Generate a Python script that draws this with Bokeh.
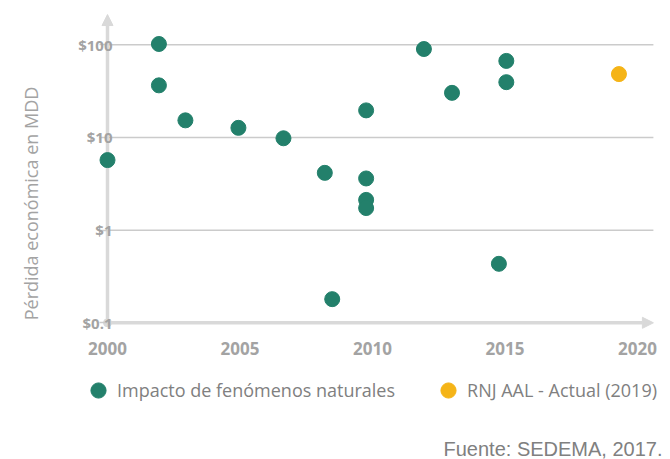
import math
from bokeh.plotting import figure
from bokeh.models import (Arrow, NormalHead, FixedTicker, CustomJSTickFormatter, Legend,
                          LegendItem, Label, Range1d, ColumnDataSource)
from bokeh.embed import file_html
from bokeh.resources import INLINE

# ---- data ----
years_natural = [2000, 2001.94, 2001.94, 2002.94, 2004.94, 2006.64, 2008.2, 2008.48,
                 2009.76, 2009.76, 2009.76, 2009.76, 2011.94, 2013.0, 2014.77, 2015.05, 2015.05]
loss_natural = [5.7, 102, 36.5, 15.3, 12.7, 9.8, 4.15, 0.18,
                19.6, 3.61, 2.12, 1.73, 90, 30.3, 0.433, 67, 39.5]
years_aal = [2019.3]
loss_aal = [48.3]
x_ticks = [2000, 2005, 2010, 2015, 2020]
y_ticks = [0.1, 1, 10, 100]
label_natural = "Impacto de fenómenos naturales"
label_aal = "RNJ AAL - Actual (2019)"
y_title = "Pérdida económica en MDD"
source_note = "Fuente: SEDEMA, 2017."

GREEN = "#23806B"
YELLOW = "#F5B417"
AXIS = "#D9D9D9"
GRID = "#CBCBCB"
TXT = "#A3A3A3"
FONT = "Open Sans"

W, H = 670, 459
# axis origin / scale in pixels (the frame covers the whole canvas)
ox, oy = 107, 322.3           # pixel position of (2000, $0.1)
px_year = 26.5                # pixels per year
px_dec = 92.67                # pixels per decade
x0, x_axis_end = 2000, 2020.6
y0, y_axis_end = 0.1, 212

x_range = Range1d(x0 - ox / px_year, x0 + (W - ox) / px_year)
y_range = Range1d(y0 * 10 ** (-(H - oy) / px_dec), y0 * 10 ** (oy / px_dec))

p = figure(width=W, height=H, output_backend="svg", toolbar_location=None,
           y_axis_type="log", x_range=x_range, y_range=y_range,
           min_border=0)
p.outline_line_color = None
p.background_fill_color = "white"
p.border_fill_color = "white"

# axes drawn at the data origin
p.xaxis.fixed_location = y0
p.xaxis.ticker = FixedTicker(ticks=x_ticks)
p.xaxis.axis_line_color = None
p.xaxis.major_tick_line_color = None
p.xaxis.minor_tick_line_color = None
p.xaxis.major_tick_out = 0
p.xaxis.major_tick_in = 0
p.xaxis.major_label_standoff = 19
p.xaxis.major_label_text_font = FONT
p.xaxis.major_label_text_font_style = "bold"
p.xaxis.major_label_text_font_size = "17px"
p.xaxis.major_label_text_color = TXT

p.yaxis.fixed_location = x0
p.yaxis.ticker = FixedTicker(ticks=y_ticks)
p.yaxis.formatter = CustomJSTickFormatter(code="return '$' + tick;")
p.yaxis.axis_line_color = None
p.yaxis.major_tick_out = 8
p.yaxis.major_tick_in = 0
p.yaxis.major_tick_line_color = GRID
p.yaxis.major_tick_line_width = 1.5
p.yaxis.minor_tick_line_color = None
p.yaxis.major_label_standoff = -13
p.yaxis.major_label_text_font = FONT
p.yaxis.major_label_text_font_style = "bold"
p.yaxis.major_label_text_font_size = "15px"
p.yaxis.major_label_text_color = TXT

p.xgrid.grid_line_color = None
p.ygrid.grid_line_color = None

# horizontal grid lines, from the y axis to the end of the x axis
grid_levels = y_ticks[1:]
p.segment(x0=[x0] * len(grid_levels), y0=grid_levels,
          x1=[x_axis_end] * len(grid_levels), y1=grid_levels,
          line_color=GRID, line_width=1.5, level="underlay")

# axis lines with arrowheads
for (xs, ys, xe, ye) in [(x0, y0, x_axis_end, y0), (x0, y0, x0, y_axis_end)]:
    p.add_layout(Arrow(x_start=xs, y_start=ys, x_end=xe, y_end=ye,
                       line_color=AXIS, line_width=3.5, level="underlay",
                       end=NormalHead(size=11, fill_color=AXIS, line_color=AXIS)))
p.scatter([x0], [y0], size=8, color=AXIS, level="underlay")

# data
src_n = ColumnDataSource(dict(x=years_natural, y=loss_natural))
src_a = ColumnDataSource(dict(x=years_aal, y=loss_aal))
r1 = p.scatter("x", "y", source=src_n, size=15, fill_color=GREEN, line_color=GREEN)
r2 = p.scatter("x", "y", source=src_a, size=15, fill_color=YELLOW, line_color=YELLOW)

# y title
p.add_layout(Label(x=30, y=H - 203, x_units="screen", y_units="screen", text=y_title,
                   angle=math.pi / 2, text_align="center", text_baseline="middle",
                   text_font=FONT, text_font_size="18px", text_color=TXT))

legend = Legend(items=[LegendItem(label=label_natural, renderers=[r1]),
                       LegendItem(label=label_aal, renderers=[r2])],
                orientation="horizontal", location=(79, H - 409),
                padding=0, margin=0, spacing=34, label_standoff=-12,
                glyph_width=38, glyph_height=38,
                border_line_color=None, background_fill_alpha=0,
                label_text_font=FONT, label_text_font_size="18px",
                label_text_color="#808080")
p.add_layout(legend, "center")

p.add_layout(Label(x=662, y=H - 448, x_units="screen", y_units="screen", text=source_note,
                   text_align="right", text_baseline="middle",
                   text_font="Liberation Sans", text_font_size="20px", text_color="#808080"))

open("out.html", "w").write(file_html(p, INLINE))
